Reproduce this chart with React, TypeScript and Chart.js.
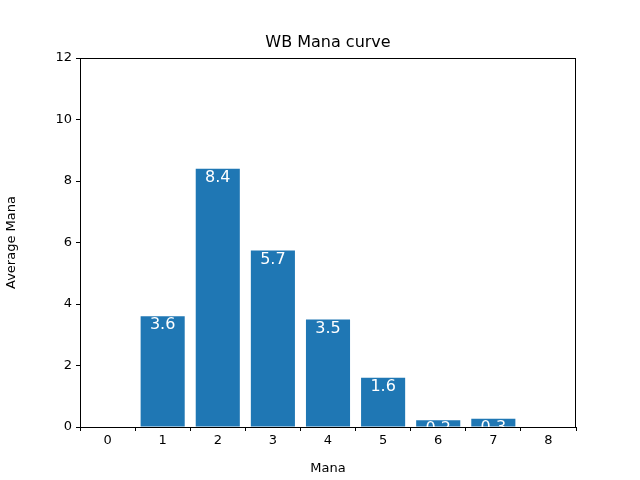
import React, { useEffect, useRef } from "react";
import { Chart, registerables } from "chart.js";
Chart.register(...registerables);

const manaCosts = [1, 2, 3, 4, 5, 6, 7];
const avgMana = [3.6, 8.4, 5.74, 3.5, 1.6, 0.22, 0.27];
const xTicks = [0, 1, 2, 3, 4, 5, 6, 7, 8];
const yTicks = [0, 2, 4, 6, 8, 10, 12];

const FONT = "'DejaVu Sans', sans-serif";

const deco = {
  id: "deco",
  afterDatasetsDraw(chart: any) {
    const { ctx, chartArea: a } = chart;
    const meta = chart.getDatasetMeta(0);
    ctx.save();
    ctx.fillStyle = "#ffffff";
    ctx.font = `16px ${FONT}`;
    ctx.textAlign = "center";
    ctx.textBaseline = "top";
    meta.data.forEach((el: any, i: number) => {
      ctx.fillText(avgMana[i].toFixed(1), el.x, el.y + 1);
    });
    ctx.strokeStyle = "#000";
    ctx.lineWidth = 1;
    ctx.strokeRect(a.left + 0.5, a.top + 0.5, a.right - a.left - 1, a.bottom - a.top);
    ctx.fillStyle = "#000";
    ctx.font = `16px ${FONT}`;
    ctx.textBaseline = "middle";
    ctx.fillText("WB Mana curve", (a.left + a.right) / 2, 43);
    ctx.restore();
  },
};

export default function App() {
  const ref = useRef<HTMLCanvasElement>(null);
  useEffect(() => {
    const chart = new Chart(ref.current!, {
      type: "bar",
      data: {
        datasets: [
          {
            data: manaCosts.map((x, i) => ({ x, y: avgMana[i] })),
            backgroundColor: "#1f77b4",
            barPercentage: 0.8,
            categoryPercentage: 1,
          },
        ],
      },
      options: {
        animation: false,
        responsive: false,
        layout: { padding: { top: 58, right: 64, left: 0, bottom: 0 } },
        plugins: { legend: { display: false }, tooltip: { enabled: false }, title: { display: false } },
        scales: {
          x: {
            type: "linear",
            min: 0,
            max: 8,
            afterFit: (s: any) => { s.height = 53; },
            afterBuildTicks: (s: any) => { s.ticks = xTicks.map((v) => ({ value: v })); },
            grid: { drawOnChartArea: false, tickLength: 4, tickColor: "#000", color: "#000" },
            border: { display: false },
            ticks: { color: "#000", font: { family: FONT, size: 13 }, padding: 2, maxRotation: 0 },
            title: { display: true, text: "Mana", color: "#000", font: { family: FONT, size: 13 }, padding: { top: 2 } },
          },
          y: {
            min: 0,
            max: 12,
            afterFit: (s: any) => { s.width = 80; },
            afterBuildTicks: (s: any) => { s.ticks = yTicks.map((v) => ({ value: v })); },
            grid: { drawOnChartArea: false, tickLength: 4, tickColor: "#000", color: "#000" },
            border: { display: false },
            ticks: { color: "#000", font: { family: FONT, size: 13 }, padding: 4 },
            title: { display: true, text: "Average Mana", color: "#000", font: { family: FONT, size: 13 }, padding: { bottom: 8 } },
          },
        },
      },
      plugins: [deco],
    });
    return () => chart.destroy();
  }, []);
  return (
    <div style={{ position: "fixed", left: 0, top: 0, width: 640, height: 480, background: "#fff" }}>
      <canvas ref={ref} width={640} height={480} />
    </div>
  );
}
